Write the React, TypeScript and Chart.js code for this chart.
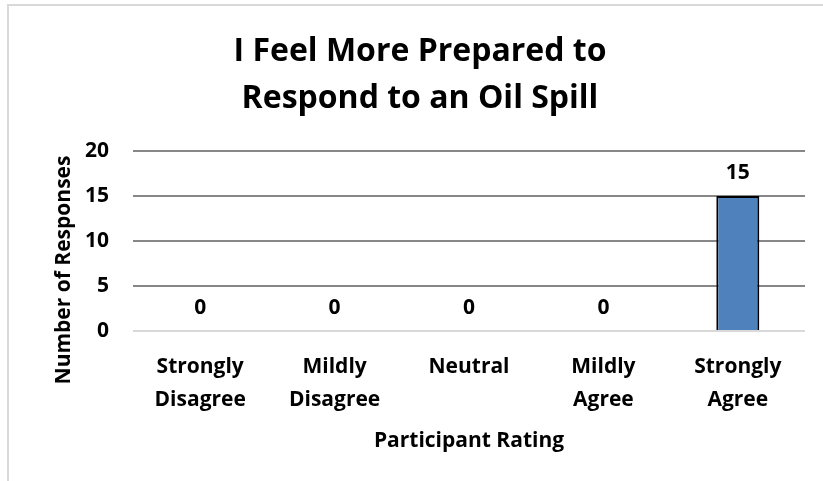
import React, { useEffect, useRef } from "react";
import { Chart, registerables } from "chart.js";

Chart.register(...registerables);

const titleLines = ["I Feel More Prepared to", "Respond to an Oil Spill"];
const categories = [
  ["Strongly", "Disagree"],
  ["Mildly", "Disagree"],
  ["Neutral"],
  ["Mildly", "Agree"],
  ["Strongly", "Agree"],
];
const responses = [0, 0, 0, 0, 15];
const yTicks = [0, 5, 10, 15, 20];
const xAxisTitle = "Participant Rating";
const yAxisTitle = "Number of Responses";

const FONT = "'Open Sans', 'Noto Sans', sans-serif";

const valueLabels = {
  id: "valueLabels",
  afterDatasetsDraw(chart: any) {
    const ctx = chart.ctx;
    const meta = chart.getDatasetMeta(0);
    ctx.save();
    ctx.font = `bold 21px ${FONT}`;
    ctx.fillStyle = "#000";
    ctx.textAlign = "center";
    ctx.textBaseline = "middle";
    meta.data.forEach((el: any, i: number) => {
      const v = chart.data.datasets[0].data[i];
      ctx.fillText(String(v), el.x, el.y - 23);
    });
    ctx.restore();
  },
};

// Y-axis title drawn slightly below the plot centre, as in the original
const yTitlePlugin = {
  id: "yTitlePlugin",
  afterDraw(chart: any) {
    const ctx = chart.ctx;
    const area = chart.chartArea;
    ctx.save();
    ctx.font = `bold 21px ${FONT}`;
    ctx.fillStyle = "#000";
    ctx.textAlign = "center";
    ctx.textBaseline = "middle";
    ctx.translate(64, (area.top + area.bottom) / 2 + 29);
    ctx.rotate(-Math.PI / 2);
    ctx.fillText(yAxisTitle, 0, 0);
    ctx.restore();
  },
};

export default function App() {
  const ref = useRef<HTMLCanvasElement>(null);
  useEffect(() => {
    document.body.style.margin = "0";
    const chart = new Chart(ref.current!, {
      type: "bar",
      data: {
        labels: categories,
        datasets: [
          {
            data: responses,
            backgroundColor: "#4f81bd",
            borderColor: "#000000",
            borderWidth: 2,
            barPercentage: 0.32,
            categoryPercentage: 1,
          },
        ],
      },
      options: {
        responsive: false,
        animation: false,
        layout: { padding: { left: 35, right: 18, top: 0, bottom: 0 } },
        plugins: {
          legend: { display: false },
          tooltip: { enabled: false },
          title: {
            display: true,
            text: titleLines,
            color: "#000",
            font: { family: FONT, size: 32, weight: "bold", lineHeight: "47px" as any },
            padding: { top: 28, bottom: 29 },
          },
        },
        scales: {
          x: {
            grid: { display: false },
            border: { display: false },
            ticks: {
              color: "#000",
              font: { family: FONT, size: 21, weight: "bold", lineHeight: "33px" as any },
              padding: 12,
              maxRotation: 0,
              autoSkip: false,
            },
            title: {
              display: true,
              text: xAxisTitle,
              color: "#000",
              font: { family: FONT, size: 21, weight: "bold" },
              padding: { top: 0, bottom: 27 },
            },
            afterFit(scale: any) {
              scale.height = 150;
            },
          },
          y: {
            min: 0,
            max: 20,
            afterBuildTicks(scale: any) {
              scale.ticks = yTicks.map((v) => ({ value: v }));
            },
            grid: {
              color: (c: any) => (c.tick && c.tick.value === 0 ? "#d9d9d9" : "#878787"),
              lineWidth: 2,
              drawTicks: false,
            },
            border: { display: false },
            ticks: {
              color: "#000",
              font: { family: FONT, size: 21, weight: "bold" },
              padding: 24,
            },
            title: { display: false },
            afterFit(scale: any) {
              scale.width = 98;
            },
          },
        },
      },
      plugins: [valueLabels, yTitlePlugin],
    });
    return () => chart.destroy();
  }, []);

  return (
    <div style={{ position: "relative", width: 823, height: 481, overflow: "hidden", background: "#fff" }}>
      <div
        style={{
          position: "absolute",
          left: 7,
          top: 4,
          width: 900,
          height: 600,
          border: "2px solid #d9d9d9",
          boxSizing: "border-box",
        }}
      />
      <canvas ref={ref} width={823} height={481} style={{ position: "absolute", left: 0, top: 0 }} />
    </div>
  );
}
